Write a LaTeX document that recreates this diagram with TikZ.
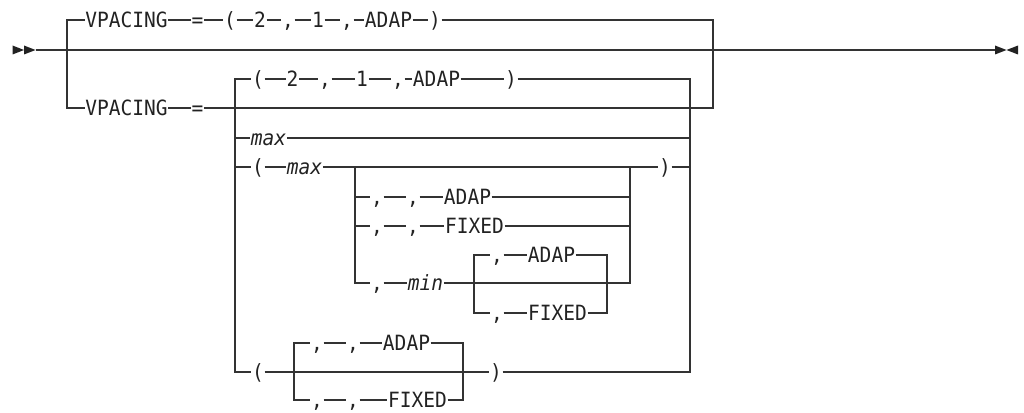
\documentclass[tikz,border=0pt]{standalone}
\usepackage{fontspec}
\newfontfamily\rrfont[FakeStretch=0.93]{DejaVu Sans Mono}
\definecolor{ln}{HTML}{333333}
\definecolor{tx}{HTML}{222222}
\tikzset{
  rr/.style={draw=ln, line width=1.2pt},
  tk/.style={inner xsep=0.5pt, inner ysep=0pt, text height=15.3pt, text depth=0pt,
    font=\rrfont\fontsize{21pt}{24pt}\selectfont, text=tx, anchor=center},
  it/.style={tk, font=\rrfont\fontsize{21pt}{24pt}\selectfont\itshape},
  tip/.style={fill=tx, draw=none}
}
\begin{document}
\begin{tikzpicture}[x=1pt,y=-1pt]
\useasboundingbox (0,0) rectangle (1024,412);
% ---- start / end marks
\fill[tip] (12.5,45.5) -- (24,50) -- (12.5,54.5) -- cycle;
\fill[tip] (24,45.5) -- (35.5,50) -- (24,54.5) -- cycle;
\fill[tip] (995,45.5) -- (1006.5,50) -- (995,54.5) -- cycle;
\fill[tip] (1018,45.5) -- (1006.5,50) -- (1018,54.5) -- cycle;
\coordinate (S) at (35.5,50);
\coordinate (E) at (995,50);
\coordinate (L0) at (67,50);
\coordinate (R0) at (713,50);
\draw[rr] (S) -- (L0) -- (R0) -- (E);
% ---- top branch
\node[tk] (t1) at (126.5,20) {VPACING};
\node[tk] (t2) at (197.5,20) {=};
\node[tk] (t3) at (230,20) {(};
\node[tk] (t4) at (260,20) {2};
\node[tk] (t5) at (288,20) {,};
\node[tk] (t6) at (318,20) {1};
\node[tk] (t7) at (347,20) {,};
\node[tk] (t8) at (388.5,20) {ADAP};
\node[tk] (t9) at (435,20) {)};
\draw[rr] (L0) |- (t1.west);
\draw[rr] (t1.east) -- (t2.west);
\draw[rr] (t2.east) -- (t3.west);
\draw[rr] (t3.east) -- (t4.west);
\draw[rr] (t4.east) -- (t5.west);
\draw[rr] (t5.east) -- (t6.west);
\draw[rr] (t6.east) -- (t7.west);
\draw[rr] (t7.east) -- (t8.west);
\draw[rr] (t8.east) -- (t9.west);
\draw[rr] (t9.east) -| (R0);
% ---- bottom branch
\node[tk] (b1) at (126.5,108) {VPACING};
\node[tk] (b2) at (197.5,108) {=};
\coordinate (J1) at (235,108);
\coordinate (J2) at (690,108);
\draw[rr] (L0) |- (b1.west);
\draw[rr] (b1.east) -- (b2.west);
\draw[rr] (b2.east) -- (J1) -- (J2) -| (R0);
% row a
\node[tk] (a1) at (258,79) {(};
\node[tk] (a2) at (292.5,79) {2};
\node[tk] (a3) at (325,79) {,};
\node[tk] (a4) at (362,79) {1};
\node[tk] (a5) at (398,79) {,};
\node[tk] (a6) at (436.5,79) {ADAP};
\node[tk] (a7) at (511,79) {)};
\draw[rr] (J1) |- (a1.west);
\draw[rr] (a1.east) -- (a2.west);
\draw[rr] (a2.east) -- (a3.west);
\draw[rr] (a3.east) -- (a4.west);
\draw[rr] (a4.east) -- (a5.west);
\draw[rr] (a5.east) -- (a6.west);
\draw[rr] (a6.east) -- (a7.west);
\draw[rr] (a7.east) -| (J2);
% row max
\node[it] (m1) at (268.5,138) {max};
\draw[rr] (J1) |- (m1.west);
\draw[rr] (m1.east) -| (J2);
% row ( max ... )
\node[tk] (p1) at (258,167) {(};
\node[it] (p2) at (304.5,167) {max};
\node[tk] (p3) at (665,167) {)};
\coordinate (PL) at (355,167);
\coordinate (PR) at (630,167);
\draw[rr] (J1) |- (p1.west);
\draw[rr] (p1.east) -- (p2.west);
\draw[rr] (p2.east) -- (PL) -- (PR) -- (p3.west);
\draw[rr] (p3.east) -| (J2);
% inner choice rows
\node[tk] (q1) at (377,197) {,};
\node[tk] (q2) at (413,197) {,};
\node[tk] (q3) at (467.5,197) {ADAP};
\draw[rr] (PL) |- (q1.west);
\draw[rr] (q1.east) -- (q2.west);
\draw[rr] (q2.east) -- (q3.west);
\draw[rr] (q3.east) -| (PR);
\node[tk] (r1) at (377,226) {,};
\node[tk] (r2) at (413,226) {,};
\node[tk] (r3) at (474.5,226) {FIXED};
\draw[rr] (PL) |- (r1.west);
\draw[rr] (r1.east) -- (r2.west);
\draw[rr] (r2.east) -- (r3.west);
\draw[rr] (r3.east) -| (PR);
\node[tk] (n1) at (377,283) {,};
\node[it] (n2) at (425.5,283) {min};
\coordinate (NL) at (474,283);
\coordinate (NR) at (607,283);
\draw[rr] (PL) |- (n1.west);
\draw[rr] (n1.east) -- (n2.west);
\draw[rr] (n2.east) -- (NL) -- (NR) -| (PR);
\node[tk] (u1) at (497,255) {,};
\node[tk] (u2) at (551.5,255) {ADAP};
\draw[rr] (NL) |- (u1.west);
\draw[rr] (u1.east) -- (u2.west);
\draw[rr] (u2.east) -| (NR);
\node[tk] (v1) at (497,313) {,};
\node[tk] (v2) at (557.5,313) {FIXED};
\draw[rr] (NL) |- (v1.west);
\draw[rr] (v1.east) -- (v2.west);
\draw[rr] (v2.east) -| (NR);
% bottom row ( ... )
\node[tk] (w1) at (258,372) {(};
\node[tk] (w2) at (496,372) {)};
\coordinate (WL) at (294,372);
\coordinate (WR) at (463,372);
\draw[rr] (J1) |- (w1.west);
\draw[rr] (w1.east) -- (WL) -- (WR) -- (w2.west);
\draw[rr] (w2.east) -| (J2);
\node[tk] (x1) at (317,343) {,};
\node[tk] (x2) at (353,343) {,};
\node[tk] (x3) at (406.5,343) {ADAP};
\draw[rr] (WL) |- (x1.west);
\draw[rr] (x1.east) -- (x2.west);
\draw[rr] (x2.east) -- (x3.west);
\draw[rr] (x3.east) -| (WR);
\node[tk] (y1) at (317,400) {,};
\node[tk] (y2) at (353,400) {,};
\node[tk] (y3) at (417.5,400) {FIXED};
\draw[rr] (WL) |- (y1.west);
\draw[rr] (y1.east) -- (y2.west);
\draw[rr] (y2.east) -- (y3.west);
\draw[rr] (y3.east) -| (WR);
\end{tikzpicture}
\end{document}
